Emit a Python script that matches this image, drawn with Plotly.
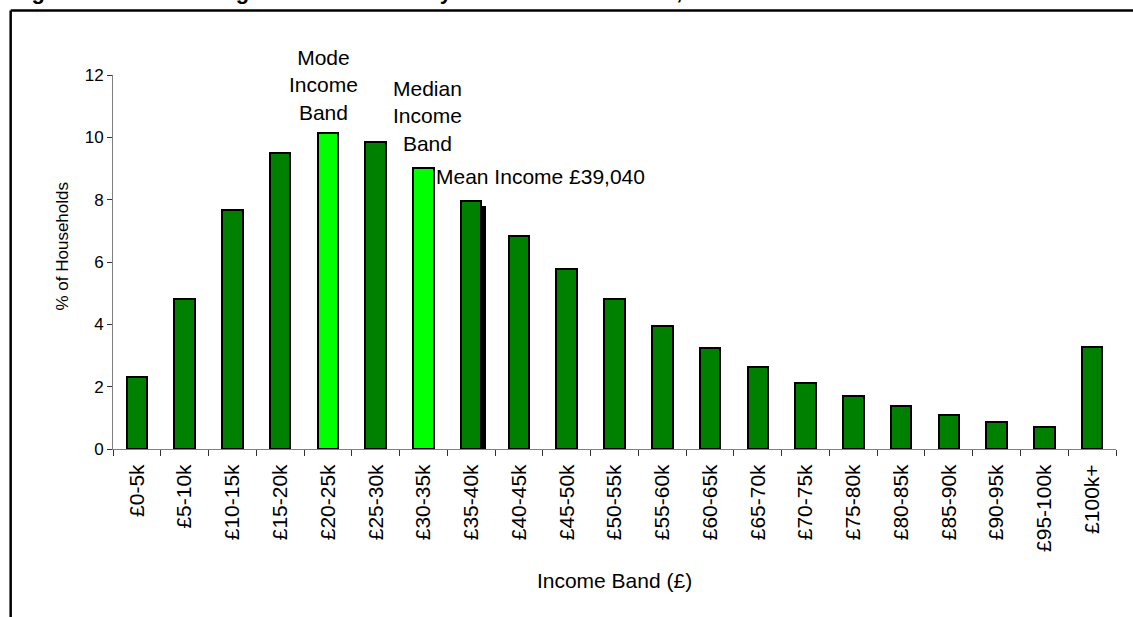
import plotly.graph_objects as go

# ---- data ----
categories = ["£0-5k", "£5-10k", "£10-15k", "£15-20k", "£20-25k", "£25-30k", "£30-35k",
              "£35-40k", "£40-45k", "£45-50k", "£50-55k", "£55-60k", "£60-65k", "£65-70k",
              "£70-75k", "£75-80k", "£80-85k", "£85-90k", "£90-95k", "£95-100k", "£100k+"]
pct_households = [2.32, 4.80, 7.66, 9.50, 10.14, 9.86, 9.03,
                  7.96, 6.83, 5.77, 4.80, 3.96, 3.23, 2.62,
                  2.13, 1.70, 1.38, 1.10, 0.88, 0.70, 3.26]
mode_band = "£20-25k"
median_band = "£30-35k"
mean_income = 39040          # £
band_size = 5000             # £ per band
mean_marker_height = 7.8     # % (height of the mean marker bar)

title_text = "Figure 2.?.? Percentage of Households by Annual Income Band, 2009"
x_title = "Income Band (£)"
y_title = "% of Households"

# ---- styling ----
FONT = "Liberation Sans, Arial, sans-serif"
DARK_GREEN = "#008000"
BRIGHT_GREEN = "#00FF00"

idx = list(range(len(categories)))
colors = [BRIGHT_GREEN if c in (mode_band, median_band) else DARK_GREEN for c in categories]
mean_pos = -0.5 + mean_income / band_size

fig = go.Figure()

# mean marker (drawn first so it sits behind the bars)
fig.add_trace(go.Bar(
    x=[mean_pos], y=[mean_marker_height], width=[0.15], offset=-0.15,
    marker=dict(color="black", line=dict(width=0)),
    hoverinfo="skip", showlegend=False,
))

fig.add_trace(go.Bar(
    x=idx, y=pct_households, width=0.43,
    marker=dict(color=colors, line=dict(color="black", width=2)),
    showlegend=False,
))

# invisible trace on second axis to carry the boundary ticks
fig.add_trace(go.Scatter(x=[idx[0]], y=[0], xaxis="x2", mode="markers",
                         marker=dict(opacity=0), hoverinfo="skip", showlegend=False))

mode_i = categories.index(mode_band)
median_i = categories.index(median_band)

ann_font = dict(family=FONT, size=21, color="black")
fig.add_annotation(x=mode_i, y=pct_households[mode_i], text="Mode<br>Income<br>Band",
                   showarrow=False, xanchor="center", yanchor="bottom", yshift=7, xshift=-4,
                   font=ann_font)
fig.add_annotation(x=median_i, y=pct_households[median_i], text="Median<br>Income<br>Band",
                   showarrow=False, xanchor="center", yanchor="bottom", yshift=11, xshift=4,
                   font=ann_font)
fig.add_annotation(x=mean_pos, y=mean_marker_height,
                   text=f"Mean Income £{mean_income:,}",
                   showarrow=False, xanchor="left", yanchor="middle", yshift=29, xshift=-52,
                   font=ann_font)

L, R_, T, B = 113.3, 1116.0, 75.0, 449.3
def px(x):
    return (x - L) / (R_ - L)
def py(y):
    return (B - y) / (B - T)

# y-axis title
fig.add_annotation(xref="paper", yref="paper", x=px(63), y=py(246), text=y_title,
                   textangle=-90, showarrow=False, xanchor="center", yanchor="middle",
                   font=dict(family=FONT, size=17, color="black"))

# title (partly cut off at the top of the image)
fig.add_annotation(xref="paper", yref="paper", x=px(10), y=py(6), text=f"<b>{title_text}</b>",
                   showarrow=False, xanchor="left", yanchor="bottom",
                   font=dict(family=FONT, size=22, color="black"))

# frame lines
fig.add_shape(type="line", xref="paper", yref="paper", x0=px(11), x1=px(1140), y0=py(10.5), y1=py(10.5),
              line=dict(color="black", width=2.5))
fig.add_shape(type="line", xref="paper", yref="paper", x0=px(11), x1=px(11), y0=py(10.5), y1=py(625),
              line=dict(color="black", width=2.5))

fig.update_layout(
    width=1133, height=617,
    margin=dict(l=113, r=17, t=75, b=168),
    plot_bgcolor="white", paper_bgcolor="white",
    bargap=0, barmode="overlay",
    font=dict(family=FONT, color="black"),
    xaxis=dict(
        range=[-0.5, len(categories) - 0.5],
        tickmode="array", tickvals=idx, ticktext=categories,
        tickangle=-90, ticks="", showgrid=False, zeroline=False,
        showline=True, linecolor="#808080", linewidth=1,
        ticklabelstandoff=6,
        tickfont=dict(family=FONT, size=21, color="black"),
        title=dict(text=x_title, font=dict(family=FONT, size=21, color="black"), standoff=22),
    ),
    xaxis2=dict(
        overlaying="x", side="bottom",
        range=[-0.5, len(categories) - 0.5],
        tickmode="array", tickvals=[i - 0.5 for i in range(len(categories) + 1)],
        ticks="outside", ticklen=6, tickcolor="#333333", tickwidth=1,
        showticklabels=False, showgrid=False, zeroline=False, showline=False,
    ),
    yaxis=dict(
        range=[0, 12], dtick=2, ticks="outside", ticklen=5, tickcolor="#333333",
        showgrid=False, zeroline=False, showline=True, linecolor="#808080", linewidth=1,
        tickfont=dict(family=FONT, size=17, color="black"),
    ),
)

fig.write_html("out.html")
